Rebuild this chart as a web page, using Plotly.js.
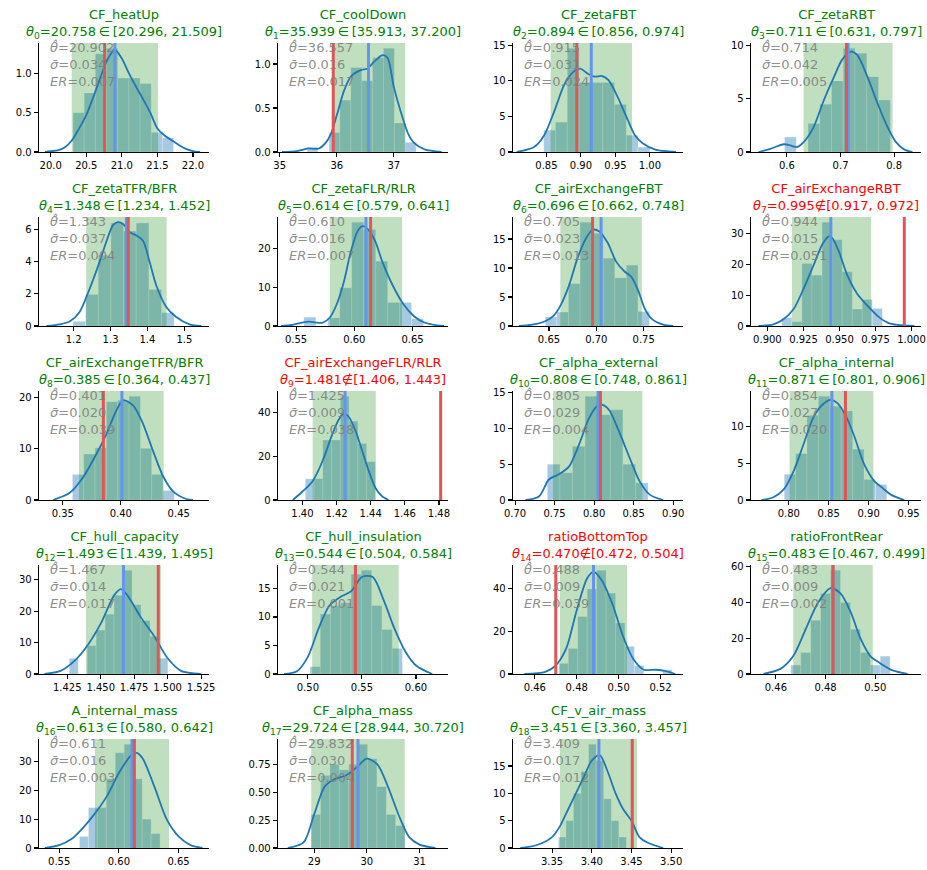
<!DOCTYPE html>
<html><head><meta charset="utf-8">
<script src="https://cdn.plot.ly/plotly-3.0.1.min.js"></script>
<style>body{margin:0;background:#fff}</style></head>
<body><div id="chart" style="width:927px;height:870px"></div>
<script>
const names = ['CF_heatUp','CF_coolDown','CF_zetaFBT','CF_zetaRBT','CF_zetaTFR/BFR','CF_zetaFLR/RLR','CF_airExchangeFBT','CF_airExchangeRBT','CF_airExchangeTFR/BFR','CF_airExchangeFLR/RLR','CF_alpha_external','CF_alpha_internal','CF_hull_capacity','CF_hull_insulation','ratioBottomTop','ratioFrontRear','A_internal_mass','CF_alpha_mass','CF_v_air_mass'];
const thetaTrue = [20.758,35.939,0.894,0.711,1.348,0.614,0.696,0.995,0.385,1.481,0.808,0.871,1.493,0.544,0.470,0.483,0.613,29.724,3.451];
const ciLow  = [20.296,35.913,0.856,0.631,1.234,0.579,0.662,0.917,0.364,1.406,0.748,0.801,1.439,0.504,0.472,0.467,0.580,28.944,3.360];
const ciHigh = [21.509,37.200,0.974,0.797,1.452,0.641,0.748,0.972,0.437,1.443,0.861,0.906,1.495,0.584,0.504,0.499,0.642,30.720,3.457];
const thetaHat = [20.902,36.557,0.915,0.714,1.343,0.610,0.705,0.944,0.401,1.425,0.805,0.854,1.467,0.544,0.488,0.483,0.611,29.832,3.409];
const sigmaBar = [0.034,0.016,0.031,0.042,0.037,0.016,0.023,0.015,0.020,0.009,0.029,0.027,0.014,0.021,0.009,0.009,0.016,0.030,0.017];
const errRel = [0.007,0.017,0.024,0.005,0.004,0.007,0.013,0.051,0.039,0.038,0.004,0.020,0.017,0.001,0.039,0.002,0.003,0.004,0.012];

const binStart = [20.314,35.482,0.846,0.5956,1.198,0.5567,0.6461,0.910,0.3583,1.4017,0.7408,0.7943,1.4265,0.502,0.4715,0.466,0.567,28.944,3.358];
const binWidth = [0.157,0.191,0.0171,0.0219,0.0343,0.01027,0.01223,0.00698,0.00977,0.00513,0.01593,0.01428,0.0067,0.0095,0.0045,0.004,0.0075,0.178,0.0095];
const binHeights = [
 [0.50,0.75,1.25,1.32,0.94,0.94,0.87,0.25,0.18],
 [0.05,0,0.22,0.59,0.96,0.81,1.07,1.18,0.33,0.11],
 [3.07,4.2,14.6,9.76,9.76,9.76,6.7,2.36,0.7],
 [1.42,0,2.68,4.5,6.7,9.78,9.3,7.1,4.9],
 [0.29,1.96,4.4,6.4,5.9,6.4,2.27,0.83],
 [2.3,0,2.1,9.9,26.9,25,16.8,6.1,6.1,1.9],
 [1.56,2.4,7.3,17.9,16,11.7,8.3,10.5,2.5],
 [2.7,1.4,20.3,16.5,33.7,28,17.6,5.5,8.6,5.7],
 [5.0,9.0,10.2,19.2,19.5,20.3,10.1,5.0,1.85],
 [9.7,9.7,27.4,27.4,47.4,36,25.8,17.5],
 [5.0,3.8,7.5,14.5,11.9,12.6,5.0,2.4],
 [3.5,6.3,11.5,14.1,12.75,12.1,6.9,2.8,2.1],
 [5,0,9,14,19,25,33,22,17,12,5],
 [1.3,10.5,12,12.5,17.5,18.2,12,7.8,4.5],
 [5,12,27,40,48.8,38,24,13,4,0,0,2],
 [5,12,30,45,58,40,25,12,5,10],
 [4,14,14,24,33,36,24,10,5],
 [0.3,0.65,0.75,0.7,0.75,0.93,0.8,0.55,0.3,0.2],
 [2,5,10,14,19,16,9,5,2]
];
const kdeX = [
 [19.92,20.0,20.1,20.2,20.3,20.4,20.5,20.6,20.7,20.8,20.9,21.0,21.1,21.2,21.3,21.4,21.5,21.6,21.7,21.8,21.9,22.0,22.1],
 [35.04,35.3,35.5,35.69,35.8,35.9,36.01,36.13,36.25,36.42,36.54,36.66,36.8,36.89,37.0,37.13,37.25,37.36,37.54,37.84],
 [0.807,0.832,0.847,0.862,0.877,0.892,0.900,0.910,0.920,0.930,0.940,0.953,0.968,0.978,0.990,1.008,1.038],
 [0.547,0.569,0.594,0.606,0.619,0.634,0.65,0.669,0.688,0.703,0.719,0.731,0.75,0.769,0.7875,0.803,0.819,0.834],
 [1.126,1.162,1.19,1.216,1.243,1.27,1.288,1.307,1.32,1.334,1.352,1.37,1.388,1.406,1.424,1.451,1.478,1.514,1.546],
 [0.537,0.546,0.555,0.561,0.567,0.573,0.579,0.585,0.591,0.597,0.603,0.607,0.612,0.618,0.624,0.633,0.642,0.651,0.66,0.671,0.677],
 [0.6181,0.6323,0.6465,0.6553,0.6624,0.6713,0.6801,0.689,0.6961,0.7032,0.7121,0.7209,0.7298,0.7369,0.744,0.7511,0.7582,0.7706,0.7812],
 [0.8937,0.9042,0.9112,0.9182,0.9251,0.9321,0.938,0.9426,0.9449,0.9496,0.9554,0.9624,0.9694,0.9764,0.9834,0.9903,1.002],
 [0.3416,0.3560,0.3674,0.3790,0.3876,0.3962,0.4019,0.4106,0.4192,0.4278,0.4364,0.4451,0.4566,0.4623],
 [1.3944,1.4002,1.406,1.4118,1.4176,1.4215,1.4244,1.4273,1.4311,1.435,1.4389,1.4428,1.4466,1.4505],
 [0.7132,0.7302,0.7430,0.7556,0.7684,0.7811,0.7939,0.8045,0.8109,0.8194,0.8321,0.8449,0.8576,0.8703,0.8873],
 [0.7661,0.7808,0.7934,0.806,0.8186,0.8312,0.8438,0.8522,0.8606,0.8711,0.8816,0.8942,0.9068,0.9173,0.9278,0.9446],
 [1.408,1.42,1.43,1.44,1.45,1.46,1.465,1.47,1.48,1.49,1.5,1.51,1.525],
 [0.478,0.49,0.5,0.51,0.52,0.53,0.54,0.55,0.56,0.57,0.58,0.59,0.60,0.615],
 [0.455,0.465,0.47,0.475,0.48,0.485,0.488,0.492,0.497,0.502,0.507,0.512,0.518,0.522,0.527],
 [0.455,0.462,0.467,0.472,0.477,0.482,0.486,0.49,0.494,0.498,0.502,0.507,0.513],
 [0.538,0.55,0.56,0.57,0.58,0.59,0.6,0.61,0.615,0.62,0.63,0.64,0.65,0.66,0.67],
 [28.5,28.8,29.0,29.2,29.4,29.6,29.8,30.0,30.2,30.4,30.6,30.8,31.0,31.3],
 [3.31,3.33,3.35,3.36,3.37,3.38,3.39,3.40,3.41,3.42,3.43,3.44,3.45,3.46,3.47,3.49]
];
const kdeY = [
 [0,0.01,0.02,0.06,0.15,0.30,0.47,0.70,0.95,1.18,1.30,1.19,1.00,0.83,0.67,0.50,0.30,0.21,0.15,0.09,0.04,0.01,0],
 [0,0.01,0.04,0.04,0.1,0.21,0.44,0.7,0.86,0.93,0.95,1.03,1.10,1.07,0.74,0.44,0.21,0.1,0.03,0],
 [0,0.7,2.4,5.9,9.7,11.5,11.7,11.0,10.6,10.7,10.1,7.8,4.5,2.4,1.2,0.33,0],
 [0,0.3,0.73,0.63,0.47,1.1,2.37,4.9,7.1,8.7,9.46,9.15,7.1,4.57,2.37,0.95,0.22,0],
 [0,0.1,0.29,0.87,2.3,3.97,5.2,6.28,6.45,6.34,5.83,5.62,5.3,3.97,2.52,1.18,0.56,0.1,0],
 [0,0.26,0.9,1.14,0.9,0.9,2.2,5.7,11.4,19.3,24.7,25.9,25,21.9,16.7,10.5,5.7,2.6,0.9,0.18,0],
 [0,0.23,0.87,1.85,3.6,7.05,11.7,15.1,16.6,16.3,14.3,11.1,9.4,8.5,6.2,3.0,1.27,0.23,0],
 [0,0.55,2.2,5.5,12.1,19.8,26.4,29.1,28.6,24.2,16.5,10.4,6.6,3.3,1.1,0.33,0],
 [0,1.4,4.4,9.0,12.9,17.5,19.5,18.5,14.9,9.6,4.7,1.7,0.2,0],
 [0,4,8.6,17.8,30.2,37,39.4,37.8,31.7,22.5,13.2,5.5,1.7,0],
 [0,0.5,2.9,3.6,4.7,7.8,11.5,13.2,13.3,12.5,9.4,5.9,2.6,0.75,0],
 [0,0.37,1.4,3.9,7.6,11.3,13.1,13.6,13.2,11.5,8.8,4.9,2.6,1.65,0.73,0],
 [0,1,4,9,16,25,27,25,18,12,5,1,0],
 [0,0.5,3,8,12,13.5,14.5,17,17,13,8,4,1.5,0],
 [0,1,4,12,30,45,48,44,33,18,7,2,2,1.5,0],
 [0,3,10,25,40,48,45,35,20,10,6,2,0],
 [0,1,3,7,12,18,26,32,33,31,21,10,4,1,0],
 [0,0.05,0.3,0.55,0.62,0.65,0.72,0.8,0.75,0.55,0.3,0.1,0.03,0],
 [0,0.5,2,4,7,10,13,16,17,14,10,7,5,2,1,0]
];

// layout parameters (axis ranges and ticks)
const xRanges = [[19.836,22.225],[34.97,37.95],[0.8015,1.048],[0.533,0.85],[1.106,1.5668],[0.5345,0.6804],[0.612,0.7915],[0.8886,1.0066],[0.3295,0.4761],[1.3857,1.4853],[0.6974,0.9124],[0.7527,0.9656],[1.4039,1.5309],[0.4724,0.6296],[0.4496,0.5307],[0.450,0.5184],[0.5331,0.6755],[28.314,31.54],[3.3008,3.5149]];
const xDtick = [0.5,1,0.05,0.1,0.1,0.05,0.05,0.025,0.05,0.02,0.05,0.05,0.025,0.05,0.02,0.02,0.05,1,0.05];
const xFmt = ['.1f','d','.2f','.1f','.1f','.2f','.2f','.3f','.2f','.2f','.2f','.2f','.3f','.2f','.2f','.2f','.2f','d','.2f'];
const yDtick = [0.5,0.5,5,5,2,10,5,10,10,20,5,5,10,5,20,20,10,0.25,5];
const yFmt = ['.1f','.1f','d','d','d','d','d','d','d','d','d','d','d','d','d','d','d','.2f','d'];

const W = 927, H = 870;
const colLeft = [39,278,513,751], axW = 170;
const rowTop = [43,217,391,565,739], axH = 109;
const FONT = 'DejaVu Sans, Verdana, sans-serif';

const traces = [], shapes = [], annotations = [];
const layout = {width:W, height:H, margin:{l:0,r:0,t:0,b:0}, showlegend:false,
  paper_bgcolor:'#fff', plot_bgcolor:'rgba(0,0,0,0)', font:{family:FONT, color:'#000'}};

names.forEach((nm, i) => {
  const n = i + 1, sx = n === 1 ? '' : String(n);
  const xa = 'x' + sx, ya = 'y' + sx;
  const c = i % 4, r = Math.floor(i / 4);
  const x0 = colLeft[c] / W, x1 = (colLeft[c] + axW) / W;
  const y1 = 1 - rowTop[r] / H, y0 = 1 - (rowTop[r] + axH) / H;
  const hs = binHeights[i];
  const yTop = 1.05 * Math.max(Math.max(...hs), Math.max(...kdeY[i]));
  const inside = thetaTrue[i] >= ciLow[i] && thetaTrue[i] <= ciHigh[i];

  traces.push({type:'bar', xaxis:xa, yaxis:ya,
    x: hs.map((h, k) => binStart[i] + (k + 0.5) * binWidth[i]), y: hs,
    width: hs.map(() => binWidth[i]),
    marker:{color:'rgba(31,119,180,0.4)', line:{color:'rgba(255,255,255,0.35)', width:0.8}},
    hoverinfo:'skip'});
  traces.push({type:'scatter', mode:'lines', xaxis:xa, yaxis:ya,
    x:[ciLow[i], ciLow[i], ciHigh[i], ciHigh[i], ciLow[i]], y:[0, yTop, yTop, 0, 0],
    fill:'toself', fillcolor:'rgba(0,128,0,0.25)', line:{width:0}, hoverinfo:'skip'});
  traces.push({type:'scatter', mode:'lines', xaxis:xa, yaxis:ya,
    x: kdeX[i], y: kdeY[i], line:{color:'#1f77b4', width:1.8, shape:'spline', smoothing:0.8},
    hoverinfo:'skip'});

  shapes.push({type:'line', layer:'above', xref:xa, yref:ya + ' domain', x0:thetaHat[i], x1:thetaHat[i], y0:0, y1:1,
    line:{color:'#6495ed', width:3}});
  shapes.push({type:'line', layer:'above', xref:xa, yref:ya + ' domain', x0:thetaTrue[i], x1:thetaTrue[i], y0:0, y1:1,
    line:{color:'#e35555', width:3}});

  const axCommon = {showline:true, linecolor:'#000', linewidth:1.3, ticks:'outside', ticklen:4, tickwidth:1.1,
    tickcolor:'#000', showgrid:false, zeroline:false, tickfont:{size:10, family:FONT, color:'#000'}, fixedrange:true, tick0:0};
  layout['xaxis' + sx] = Object.assign({}, axCommon, {domain:[x0, x1], anchor:ya, range:xRanges[i],
    dtick:xDtick[i], tickformat:xFmt[i]});
  layout['yaxis' + sx] = Object.assign({}, axCommon, {domain:[y0, y1], anchor:xa, range:[0, yTop],
    dtick:yDtick[i], tickformat:yFmt[i]});

  const col = inside ? '#008000' : '#ff0000';
  annotations.push({xref:'paper', yref:'paper', x:(x0 + x1) / 2, y:y1, xanchor:'center', yanchor:'bottom', yshift:0,
    showarrow:false, align:'center', font:{size:13, family:FONT, color:col},
    text: nm + '<br><i>θ</i><sub>' + i + '</sub>=' + thetaTrue[i].toFixed(3) + (inside ? '\u2009∈\u2009' : '∉') +
      '[' + ciLow[i].toFixed(3) + ', ' + ciHigh[i].toFixed(3) + ']'});
  annotations.push({xref:xa + ' domain', yref:ya + ' domain', x:0.05, y:1, xanchor:'left', yanchor:'top', yshift:6,
    showarrow:false, align:'left', font:{size:13, family:FONT, color:'rgba(128,128,128,0.9)'},
    text:'<i>θ̂</i>=' + thetaHat[i].toFixed(3) + '<br><i>σ̄</i>=' + sigmaBar[i].toFixed(3) + '<br><i>ER</i>=' + errRel[i].toFixed(3)});
});
layout.shapes = shapes;
layout.annotations = annotations;
Plotly.newPlot('chart', traces, layout, {staticPlot:true, displayModeBar:false});
</script></body></html>
